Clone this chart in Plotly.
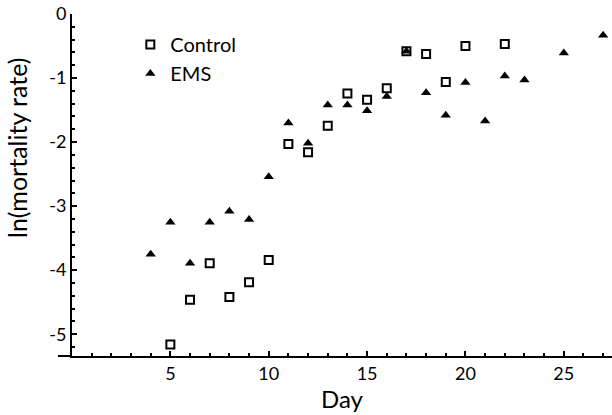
import plotly.graph_objects as go

days_control = [5, 6, 7, 8, 9, 10, 11, 12, 13, 14, 15, 16, 17, 18, 19, 20, 22]
control = [-5.16, -4.46, -3.89, -4.42, -4.19, -3.84, -2.03, -2.16, -1.745, -1.24,
           -1.34, -1.16, -0.58, -0.625, -1.06, -0.5, -0.47]

days_ems = [4, 5, 6, 7, 8, 9, 10, 11, 12, 13, 14, 15, 16, 17, 18, 19, 20, 21, 22, 23, 25, 27]
ems = [-3.75, -3.25, -3.89, -3.25, -3.08, -3.21, -2.54, -1.70, -2.02, -1.42, -1.42,
       -1.51, -1.29, -0.58, -1.23, -1.58, -1.07, -1.67, -0.97, -1.03, -0.61, -0.33]

x_tickvals = [5, 10, 15, 20, 25]
x_ticktext = ["5", "10", "15", "20", "25"]
y_tickvals = [0, -1, -2, -3, -4, -5]
y_ticktext = ["0", "-1", "-2", "-3", "-4", "-5"]

FONT = "Lato"

fig = go.Figure()
fig.add_trace(go.Scatter(
    x=days_control, y=control, mode="markers", name="Control",
    marker=dict(symbol="square-open", size=8, color="black", line=dict(width=2, color="black")),
    cliponaxis=False,
))
fig.add_trace(go.Scatter(
    x=days_ems, y=ems, mode="markers", name="EMS",
    marker=dict(symbol="triangle-up", size=9, color="black", line=dict(width=0)),
    cliponaxis=False,
))

fig.update_layout(
    width=612, height=415,
    margin=dict(l=72, r=0, t=14, b=59),
    paper_bgcolor="white", plot_bgcolor="white",
    font=dict(family=FONT, color="black", size=18),
    showlegend=True,
    legend=dict(x=0.108, y=0.968, xanchor="left", yanchor="top",
                font=dict(family=FONT, size=20, color="black"),
                bgcolor="rgba(0,0,0,0)", itemwidth=30, tracegroupgap=0),
    xaxis=dict(
        range=[0, 27.45], showgrid=False, zeroline=False,
        showline=True, linecolor="black", linewidth=2,
        tickmode="array", tickvals=x_tickvals, ticktext=x_ticktext,
        ticks="inside", ticklen=5, tickwidth=1.5, tickcolor="black",
        minor=dict(tickmode="linear", tick0=0, dtick=1, ticks="inside", ticklen=3,
                   tickwidth=1.5, tickcolor="black"),
        tickfont=dict(family=FONT, size=18, color="black"),
        title=dict(text="Day", font=dict(family=FONT, size=24, color="black"), standoff=4),
    ),
    yaxis=dict(
        range=[-5.34, 0], showgrid=False, zeroline=False,
        showline=True, linecolor="black", linewidth=2,
        tickmode="array", tickvals=y_tickvals, ticktext=y_ticktext,
        ticks="inside", ticklen=5, tickwidth=1.5, tickcolor="black",
        minor=dict(tickmode="linear", tick0=0, dtick=0.2, ticks="inside", ticklen=3,
                   tickwidth=1.5, tickcolor="black"),
        tickfont=dict(family=FONT, size=18, color="black"),
    ),
)

# y-axis title placed as in the reference (shifted upward)
fig.add_annotation(
    text="ln(mortality rate)", xref="paper", yref="paper",
    x=-0.102, y=0.608, xanchor="center", yanchor="middle", textangle=-90,
    showarrow=False, font=dict(family=FONT, size=25, color="black"),
)
# x-axis line extends a little left of the y axis
fig.add_shape(type="line", xref="paper", yref="paper", x0=-0.026, x1=0, y0=0, y1=0,
              line=dict(color="black", width=2))

fig.write_html("out.html", config={"displayModeBar": False},
               post_script="document.body.style.margin='0';")
